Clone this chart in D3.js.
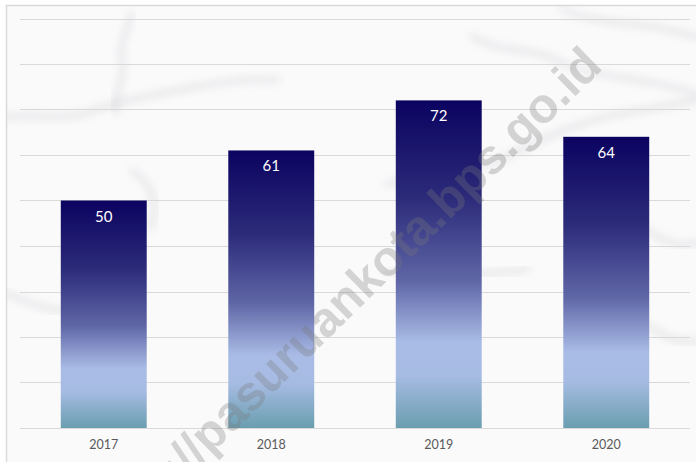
<!DOCTYPE html>
<html>
<head>
<meta charset="utf-8">
<script src="https://cdn.jsdelivr.net/npm/d3@7"></script>
<style>
  body { margin: 0; background: #fff; }
  svg { display: block; }
</style>
</head>
<body>
<div id="chart"></div>
<script>
// data
const years = ['2017', '2018', '2019', '2020'];
const values = [50, 61, 72, 64];
const gridTicks = [0, 10, 20, 30, 40, 50, 60, 70, 80, 90];

const width = 696, height = 462;
const margin = {top: 18.5, right: 6, bottom: 34, left: 20};

const svg = d3.select('#chart')
  .append('svg')
    .attr('width', width)
    .attr('height', height);

const defs = svg.append('defs');

// bar gradient, stretched over each bar
const grad = defs.append('linearGradient')
    .attr('id', 'barGrad')
    .attr('x1', 0).attr('y1', 0)
    .attr('x2', 0).attr('y2', 1);
[
  [0, '#0b0360'],
  [0.3, '#2c2b7a'],
  [0.55, '#5f66a6'],
  [0.74, '#a9bce6'],
  [0.84, '#a6bbe2'],
  [1, '#6a9eb0']
].forEach(s => grad.append('stop').attr('offset', s[0]).attr('stop-color', s[1]));

// blur for the marble veins
defs.append('filter').attr('id', 'soft')
  .attr('x', '-20%').attr('y', '-20%').attr('width', '140%').attr('height', '140%')
  .append('feGaussianBlur').attr('stdDeviation', 4);

defs.append('clipPath').attr('id', 'frame')
  .append('rect').attr('x', 6).attr('y', 5).attr('width', width).attr('height', height);

// marble background
const bg = svg.append('g').attr('clip-path', 'url(#frame)');
bg.append('rect')
    .attr('x', 6).attr('y', 5)
    .attr('width', width).attr('height', height)
    .attr('fill', '#fafafb');

const veins = [
  'M0,118 C30,112 60,122 90,112 C120,100 150,96 190,88 C220,82 250,78 280,80',
  'M132,12 C128,30 118,45 122,60 C126,80 112,95 116,115',
  'M385,185 C420,172 460,178 500,160 C540,140 580,120 630,112 C660,108 680,102 700,100',
  'M470,35 C500,55 530,45 560,62 C600,80 640,75 700,95',
  'M0,292 C25,298 50,318 85,308',
  'M560,8 C600,28 640,18 700,38',
  'M130,170 C150,180 160,200 150,230',
  'M640,320 C660,335 680,345 700,340',
  'M385,275 C420,262 470,282 530,268',
  'M640,225 C660,240 680,250 700,242'
];
bg.selectAll('path.vein')
  .data(veins)
  .join('path')
    .attr('class', 'vein')
    .attr('d', d => d)
    .attr('fill', 'none')
    .attr('stroke', '#a8a8ae')
    .attr('stroke-width', 3)
    .attr('opacity', 0.45)
    .attr('filter', 'url(#soft)');

// frame
svg.append('path')
    .attr('d', `M6.5,${height} V5.5 H${width}`)
    .attr('fill', 'none')
    .attr('stroke', '#d9d9d9')
    .attr('stroke-width', 1.5);

// scales
const x = d3.scaleBand()
    .domain(years)
    .range([margin.left, width - margin.right])
    .paddingInner(0.487)
    .paddingOuter(0.2435);

const y = d3.scaleLinear()
    .domain([0, 90])
    .range([height - margin.bottom, margin.top]);

// gridlines
svg.append('g')
  .selectAll('line')
  .data(gridTicks)
  .join('line')
    .attr('x1', margin.left)
    .attr('x2', width - margin.right)
    .attr('y1', d => Math.round(y(d)) + 0.5)
    .attr('y2', d => Math.round(y(d)) + 0.5)
    .attr('stroke', '#d9d9d9')
    .attr('stroke-width', 1);

// bars
svg.append('g')
  .selectAll('rect')
  .data(values)
  .join('rect')
    .attr('x', (d, i) => x(years[i]))
    .attr('y', d => y(d))
    .attr('width', x.bandwidth())
    .attr('height', d => y(0) - y(d))
    .attr('fill', 'url(#barGrad)');

// value labels
svg.append('g')
  .selectAll('text')
  .data(values)
  .join('text')
    .attr('x', (d, i) => x(years[i]) + x.bandwidth() / 2)
    .attr('y', d => y(d) + 21)
    .attr('text-anchor', 'middle')
    .attr('font-family', 'Lato, "Open Sans", sans-serif')
    .attr('font-size', 15)
    .attr('fill', '#ffffff')
    .text(d => d);

// x axis labels
const xAxis = svg.append('g')
    .attr('transform', `translate(0,${y(0)})`)
    .call(d3.axisBottom(x).tickSize(0).tickPadding(12));
xAxis.select('.domain').remove();
xAxis.selectAll('text')
    .attr('font-family', 'Lato, "Open Sans", sans-serif')
    .attr('font-size', 12.5)
    .attr('fill', '#595959');

// watermark
svg.append('text')
    .attr('transform', 'translate(604,68) rotate(-44.5)')
    .attr('text-anchor', 'end')
    .attr('font-family', '"Liberation Sans", Arial, sans-serif')
    .attr('font-weight', 'bold')
    .attr('font-size', 49)
    .attr('fill', '#7a7a7a')
    .attr('opacity', 0.3)
    .text('https://pasuruankota.bps.go.id');
</script>
</body>
</html>
